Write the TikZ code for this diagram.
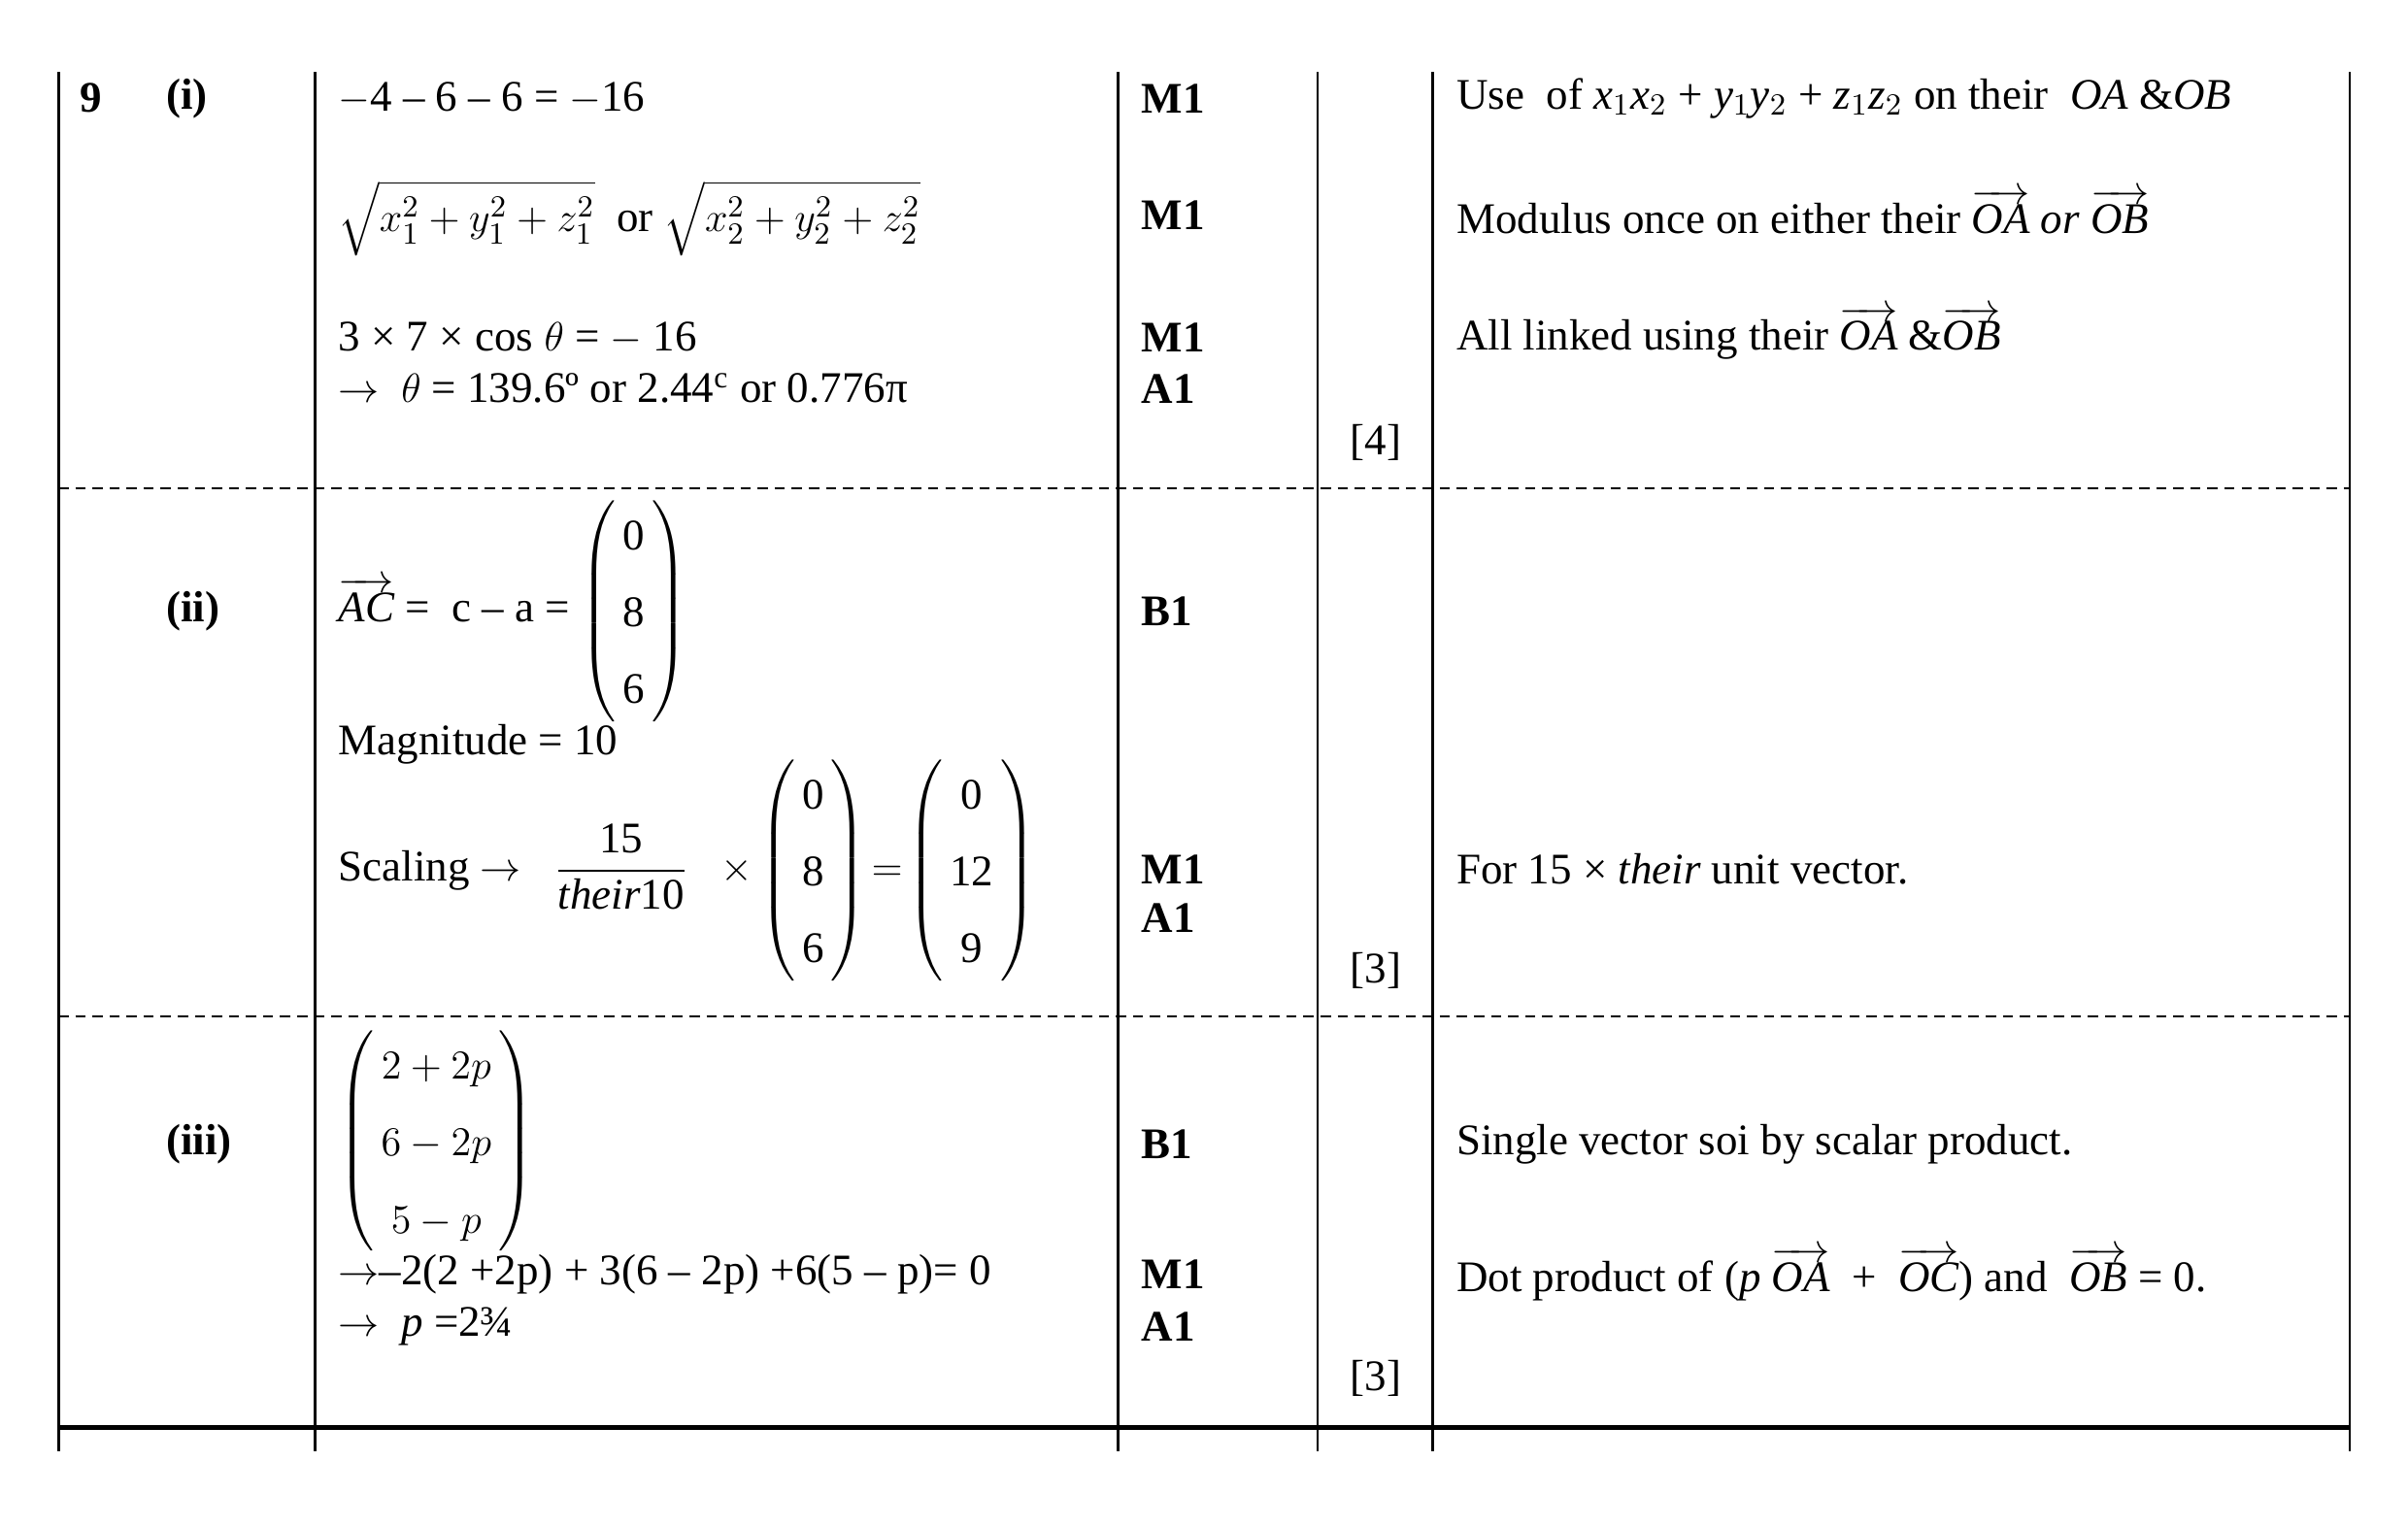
\documentclass[tikz,border=0pt]{standalone}
\usepackage{amsmath}
\usepackage{fontspec}
\setmainfont{Liberation Serif}
\usetikzlibrary{positioning}
\tikzstyle{txt} = [anchor=west, inner sep=0pt, font=\fontsize{12.8}{15}\selectfont]
\tikzstyle{score} = [txt, font=\fontsize{12.8}{15}\selectfont\bfseries]
\tikzstyle{tot} = [inner sep=0pt, font=\fontsize{12.8}{15}\selectfont]
\tikzstyle{rule} = [line width=0.8pt]
\tikzstyle{dashrule} = [line width=0.6pt, dash pattern=on 3pt off 2pt]
\newcommand{\vect}[1]{\overrightarrow{\mathit{#1}}}
\newcommand{\colv}[1]{\renewcommand{\arraystretch}{1.5}\left(\begin{array}{@{\,}c@{\,}}#1\end{array}\right)}

\begin{document}
\begin{tikzpicture}[x=0.015816cm, y=-0.015816cm]
            \useasboundingbox (0,0) rectangle (1568,994);

            % grid
            \foreach \x in {38,205,728,858,933,1530}
                \draw [rule] (\x,47) -- (\x,945);
            \draw [dashrule] (38,318) -- (1530,318);
            \draw [dashrule] (38,662) -- (1530,662);
            \draw [line width=1.4pt] (38,930) -- (1530,930);

            % part (i)
            \node [score] at (52,64) (q) {9};
            \node [score] at (108,64) (pi) {(i)};
            \node [txt] at (220,64) (dot) {$-$4 -- 6 -- 6 = $-$16};
            \node [txt] at (220,142) (mod) {$\sqrt{x_1^2+y_1^2+z_1^2}$ \ or $\sqrt{x_2^2+y_2^2+z_2^2}$};
            \node [txt] at (220,220) (cosl) {3 × 7 × cos $\theta$ = $-$ 16};
            \node [txt] at (220,253) (ang) {$\rightarrow$\ \ $\theta$ = 139.6º or 2.44$^{\mathrm{c}}$ or 0.776π};
            \node [score] at (743,64) (m1a) {M1};
            \node [score] at (743,140) (m1b) {M1};
            \node [score] at (743,220) (m1c) {M1};
            \node [score] at (743,253) (a1a) {A1};
            \node [tot] at (896,288) (t1) {[4]};
            \node [txt] at (948,64) (g1) {Use \ of \textit{x}$_1$\textit{x}$_2$ + \textit{y}$_1$\textit{y}$_2$ + \textit{z}$_1$\textit{z}$_2$ on their \ \textit{OA} \&\textit{OB}};
            \node [txt] at (948,138) (g2) {Modulus once on either their $\vect{OA}$ \textit{or} $\vect{OB}$};
            \node [txt] at (948,217) (g3) {All linked using their $\vect{OA}$ \&$\vect{OB}$};

            % part (ii)
            \node [score] at (108,398) (pii) {(ii)};
            \node [txt] at (220,398) (ac) {$\vect{AC}$ = \ c -- a = $\colv{\text{0}\\\text{8}\\\text{6}}$};
            \node [txt] at (220,485) (mag) {Magnitude = 10};
            \node [txt] at (220,567) (sc) {Scaling $\rightarrow$ \ \ $\dfrac{\text{15}}{\textit{their}\text{10}}$ \ \ $\times\colv{\text{0}\\\text{8}\\\text{6}}\!=\!\colv{\text{0}\\\text{12}\\\text{9}}$};
            \node [score] at (743,398) (b1a) {B1};
            \node [score] at (743,566) (m1d) {M1};
            \node [score] at (743,598) (a1b) {A1};
            \node [tot] at (896,632) (t2) {[3]};
            \node [txt] at (948,566) (g4) {For 15 × \textit{their} unit vector.};

            % part (iii)
            \node [score] at (108,745) (piii) {(iii)};
            \node [txt] at (220,743) (pv) {$\colv{2+2p\\6-2p\\5-p}$};
            \node [txt] at (220,830) (eq) {$\rightarrow$--2(2 +2p) + 3(6 -- 2p) +6(5 -- p)= 0};
            \node [txt] at (220,864) (pp) {$\rightarrow$\ \ \textit{p} =2¾};
            \node [score] at (743,745) (b1b) {B1};
            \node [score] at (743,830) (m1e) {M1};
            \node [score] at (743,864) (a1c) {A1};
            \node [tot] at (896,898) (t3) {[3]};
            \node [txt] at (948,745) (g5) {Single vector soi by scalar product.};
            \node [txt] at (948,830) (g6) {Dot product of (\textit{p} $\vect{OA}$ \ + \ $\vect{OC}$) and \ $\vect{OB}$ = 0.};
\end{tikzpicture}
\end{document}
